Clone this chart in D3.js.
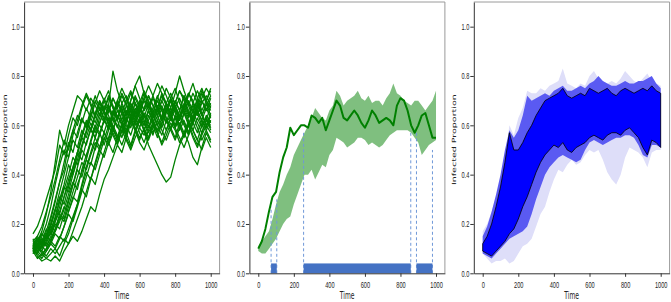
<!DOCTYPE html>
<html lang="en">
<head>
<meta charset="UTF-8" />
<script src="https://d3js.org/d3.v7.min.js"></script>
<title>Infected proportion over time</title>
<style>
  body { margin: 0; background: #fff; }
</style>
</head>
<body>
<script>
// sample times for the simulation runs and the bands
var runTime = [0,25,50,75,100,125,150,175,200,225,250,275,300,325,350,375,400,425,450,475,
  500,525,550,575,600,625,650,675,700,725,750,775,800,825,850,875,900,925,950,975,1000];
var meanTime = [0,20,40,60,80,100,120,140,160,180,200,220,240,260,280,300,320,340,360,380,
  400,420,440,460,480,500,520,540,560,580,600,620,640,660,680,700,720,740,760,780,
  800,820,840,860,880,900,920,940,960,980,1000];

var xTicks = [0,200,400,600,800,1000];
var yTicks = [0,0.2,0.4,0.6,0.8,1.0];

// left panel: individual runs
var runA = [0.10,0.13,0.17,0.24,0.33,0.45,0.58,0.52,0.60,0.66,0.72,0.70,0.66,0.71,0.68,0.64,0.70,0.74,0.67,0.63,0.69,0.72,0.66,0.61,0.67,0.73,0.70,0.64,0.68,0.62,0.66,0.71,0.75,0.69,0.65,0.60,0.66,0.70,0.64,0.69,0.66];
var runB = [0.12,0.11,0.15,0.20,0.27,0.36,0.44,0.50,0.47,0.56,0.62,0.68,0.73,0.69,0.64,0.70,0.66,0.61,0.58,0.64,0.60,0.55,0.61,0.66,0.63,0.58,0.62,0.67,0.72,0.66,0.61,0.64,0.59,0.63,0.68,0.73,0.70,0.65,0.60,0.63,0.58];
var runC = [0.09,0.08,0.12,0.15,0.22,0.29,0.37,0.42,0.52,0.58,0.55,0.62,0.60,0.66,0.72,0.67,0.62,0.68,0.82,0.74,0.69,0.65,0.70,0.76,0.71,0.66,0.69,0.63,0.67,0.72,0.68,0.64,0.69,0.74,0.70,0.65,0.61,0.66,0.71,0.75,0.72];
var runD = [0.14,0.10,0.09,0.13,0.18,0.22,0.30,0.36,0.44,0.40,0.48,0.55,0.61,0.58,0.64,0.60,0.57,0.63,0.59,0.54,0.60,0.65,0.70,0.76,0.80,0.73,0.68,0.63,0.67,0.62,0.58,0.63,0.68,0.64,0.60,0.56,0.61,0.66,0.62,0.59,0.64];
var runE = [0.10,0.12,0.10,0.14,0.16,0.21,0.25,0.31,0.38,0.43,0.49,0.46,0.53,0.58,0.55,0.61,0.66,0.62,0.58,0.64,0.61,0.57,0.63,0.59,0.55,0.58,0.52,0.48,0.44,0.40,0.37,0.39,0.46,0.52,0.56,0.61,0.58,0.54,0.60,0.63,0.59];
var runF = [0.11,0.09,0.07,0.10,0.13,0.17,0.21,0.26,0.32,0.37,0.34,0.42,0.48,0.53,0.50,0.56,0.62,0.59,0.65,0.70,0.66,0.61,0.67,0.63,0.69,0.74,0.70,0.65,0.60,0.64,0.69,0.73,0.68,0.63,0.67,0.72,0.77,0.71,0.66,0.70,0.74];
var runG = [0.10,0.07,0.05,0.06,0.08,0.10,0.07,0.12,0.16,0.22,0.28,0.34,0.31,0.38,0.44,0.50,0.47,0.53,0.58,0.55,0.61,0.57,0.52,0.58,0.63,0.60,0.66,0.62,0.57,0.61,0.66,0.70,0.65,0.60,0.55,0.60,0.64,0.59,0.54,0.58,0.62];
var runH = [0.09,0.06,0.08,0.06,0.05,0.07,0.05,0.09,0.12,0.15,0.13,0.17,0.22,0.27,0.25,0.32,0.38,0.42,0.47,0.52,0.49,0.55,0.51,0.57,0.62,0.58,0.54,0.59,0.64,0.68,0.63,0.59,0.55,0.61,0.57,0.53,0.47,0.44,0.51,0.57,0.53];
var runI = [0.13,0.15,0.12,0.16,0.19,0.17,0.22,0.27,0.25,0.30,0.36,0.41,0.46,0.44,0.51,0.57,0.62,0.68,0.64,0.70,0.75,0.71,0.66,0.72,0.68,0.63,0.69,0.65,0.71,0.76,0.72,0.67,0.73,0.80,0.74,0.69,0.65,0.71,0.75,0.70,0.67];
var runJ = [0.16,0.19,0.24,0.30,0.36,0.42,0.52,0.48,0.56,0.63,0.60,0.67,0.72,0.68,0.63,0.69,0.65,0.60,0.66,0.62,0.57,0.63,0.68,0.64,0.59,0.65,0.61,0.56,0.62,0.67,0.63,0.58,0.64,0.60,0.65,0.70,0.66,0.61,0.57,0.62,0.68];
var runK = [0.10,0.13,0.11,0.15,0.20,0.26,0.24,0.31,0.36,0.43,0.49,0.55,0.52,0.59,0.55,0.51,0.57,0.53,0.49,0.55,0.60,0.56,0.62,0.58,0.53,0.50,0.55,0.60,0.57,0.52,0.56,0.61,0.58,0.53,0.57,0.62,0.58,0.54,0.50,0.55,0.51];
var runL = [0.08,0.11,0.14,0.12,0.17,0.23,0.29,0.35,0.33,0.40,0.46,0.52,0.58,0.64,0.70,0.66,0.71,0.67,0.62,0.68,0.73,0.69,0.64,0.60,0.66,0.71,0.67,0.72,0.77,0.73,0.68,0.64,0.69,0.74,0.71,0.66,0.62,0.67,0.73,0.69,0.64];
var runM = [0.12,0.09,0.13,0.18,0.16,0.21,0.27,0.34,0.40,0.47,0.44,0.51,0.57,0.63,0.59,0.65,0.61,0.66,0.71,0.67,0.62,0.58,0.64,0.69,0.65,0.61,0.66,0.62,0.58,0.63,0.69,0.65,0.70,0.66,0.61,0.57,0.63,0.68,0.64,0.60,0.65];
var runN = [0.11,0.08,0.06,0.09,0.12,0.10,0.14,0.19,0.24,0.21,0.27,0.33,0.39,0.45,0.42,0.48,0.54,0.60,0.56,0.52,0.58,0.63,0.59,0.65,0.70,0.66,0.72,0.68,0.64,0.59,0.65,0.70,0.66,0.62,0.68,0.64,0.69,0.74,0.70,0.66,0.71];
var runO = [0.10,0.14,0.12,0.17,0.23,0.30,0.37,0.45,0.53,0.49,0.57,0.63,0.59,0.65,0.61,0.67,0.63,0.58,0.64,0.69,0.65,0.60,0.56,0.62,0.68,0.64,0.59,0.65,0.70,0.66,0.61,0.67,0.63,0.58,0.62,0.57,0.63,0.69,0.65,0.60,0.62];
var runP = [0.13,0.10,0.14,0.11,0.15,0.20,0.18,0.24,0.30,0.36,0.42,0.39,0.46,0.53,0.59,0.56,0.62,0.68,0.63,0.59,0.65,0.70,0.74,0.69,0.64,0.60,0.66,0.71,0.67,0.63,0.69,0.65,0.60,0.66,0.72,0.68,0.73,0.69,0.64,0.68,0.72];
var runQ = [0.09,0.11,0.08,0.10,0.13,0.11,0.15,0.13,0.18,0.23,0.28,0.35,0.41,0.38,0.45,0.51,0.57,0.54,0.60,0.56,0.52,0.57,0.62,0.58,0.54,0.59,0.55,0.61,0.57,0.53,0.58,0.63,0.59,0.55,0.51,0.56,0.61,0.57,0.62,0.58,0.54];
var runR = [0.11,0.15,0.19,0.25,0.31,0.38,0.46,0.54,0.50,0.58,0.64,0.61,0.67,0.63,0.69,0.74,0.70,0.65,0.71,0.67,0.72,0.68,0.63,0.69,0.65,0.71,0.76,0.72,0.67,0.73,0.69,0.65,0.70,0.66,0.72,0.68,0.63,0.69,0.74,0.70,0.75];
var runS = [0.10,0.08,0.11,0.15,0.13,0.18,0.24,0.22,0.29,0.36,0.43,0.50,0.47,0.54,0.60,0.57,0.52,0.58,0.63,0.60,0.55,0.61,0.66,0.62,0.57,0.53,0.58,0.64,0.60,0.56,0.62,0.58,0.54,0.59,0.65,0.61,0.56,0.52,0.57,0.62,0.60];
var runT = [0.12,0.14,0.11,0.09,0.12,0.16,0.14,0.19,0.25,0.31,0.29,0.36,0.43,0.49,0.55,0.61,0.66,0.71,0.67,0.62,0.68,0.64,0.69,0.65,0.61,0.67,0.72,0.68,0.64,0.70,0.75,0.71,0.66,0.62,0.67,0.63,0.68,0.64,0.70,0.66,0.69];
var runU = [0.09,0.12,0.16,0.14,0.20,0.26,0.33,0.40,0.47,0.54,0.51,0.58,0.55,0.61,0.57,0.63,0.68,0.64,0.59,0.55,0.60,0.66,0.62,0.67,0.63,0.58,0.64,0.60,0.55,0.61,0.66,0.62,0.67,0.71,0.66,0.62,0.58,0.63,0.59,0.64,0.61];
var runV = [0.10,0.12,0.09,0.07,0.10,0.08,0.11,0.14,0.12,0.17,0.22,0.27,0.33,0.39,0.36,0.43,0.49,0.55,0.61,0.66,0.62,0.68,0.73,0.69,0.65,0.70,0.66,0.61,0.66,0.70,0.66,0.71,0.67,0.63,0.68,0.73,0.69,0.64,0.69,0.72,0.68];
var runW = [0.11,0.13,0.16,0.14,0.19,0.25,0.31,0.28,0.35,0.42,0.49,0.56,0.62,0.58,0.65,0.70,0.66,0.72,0.68,0.63,0.67,0.62,0.66,0.71,0.67,0.62,0.57,0.61,0.66,0.62,0.67,0.63,0.59,0.64,0.69,0.65,0.61,0.66,0.62,0.67,0.63];
var runX = [0.08,0.10,0.13,0.11,0.14,0.18,0.23,0.21,0.27,0.33,0.39,0.45,0.42,0.48,0.53,0.50,0.55,0.52,0.57,0.53,0.58,0.54,0.50,0.55,0.59,0.56,0.60,0.57,0.62,0.58,0.54,0.59,0.63,0.60,0.56,0.60,0.55,0.51,0.56,0.60,0.57];
var runs = [runA,runB,runC,runD,runE,runF,runG,runH,runI,runJ,runK,runL,
            runM,runN,runO,runP,runQ,runR,runS,runT,runU,runV,runW,runX];

// middle panel: highlighted run and band
var meanLine = [0.10,0.13,0.18,0.25,0.31,0.33,0.41,0.47,0.51,0.59,0.56,0.58,0.60,0.60,0.59,0.64,0.63,0.61,0.63,0.58,
  0.62,0.66,0.70,0.68,0.63,0.62,0.64,0.66,0.64,0.61,0.59,0.62,0.66,0.64,0.61,0.62,0.63,0.62,0.60,0.68,
  0.71,0.70,0.66,0.60,0.57,0.60,0.64,0.65,0.60,0.55,0.55];
var bandLo = [0.09,0.08,0.08,0.10,0.12,0.14,0.17,0.20,0.22,0.23,0.28,0.32,0.36,0.40,0.40,0.42,0.38,0.41,0.44,0.43,
  0.48,0.50,0.55,0.54,0.53,0.51,0.52,0.53,0.55,0.55,0.54,0.52,0.53,0.52,0.51,0.52,0.54,0.56,0.57,0.58,
  0.58,0.58,0.58,0.57,0.55,0.53,0.48,0.50,0.52,0.53,0.54];
var bandHi = [0.11,0.13,0.15,0.17,0.22,0.28,0.33,0.36,0.40,0.43,0.48,0.51,0.54,0.57,0.60,0.63,0.67,0.65,0.63,0.62,
  0.66,0.68,0.74,0.72,0.68,0.70,0.71,0.72,0.74,0.71,0.70,0.72,0.69,0.70,0.70,0.68,0.71,0.73,0.77,0.73,
  0.72,0.70,0.69,0.68,0.70,0.70,0.68,0.66,0.68,0.70,0.74];
var spanStart = [72,255,890];
var spanEnd = [104,858,980];
var spanHeight = 0.04;
var guideTime = [72,104,255,858,890,980];
var guideTop = [0.27,0.30,0.57,0.58,0.57,0.50];

// right panel: nested envelopes
var lightLo = [0.08,0.06,0.04,0.05,0.05,0.06,0.04,0.05,0.08,0.11,0.12,0.14,0.19,0.24,0.27,0.33,0.38,0.42,0.41,0.44,0.46,0.44,0.45,0.48,0.50,0.49,0.50,0.46,0.41,0.38,0.36,0.40,0.47,0.51,0.50,0.49,0.47,0.43,0.49,0.50,0.50];
var lightHi = [0.17,0.20,0.25,0.31,0.37,0.46,0.60,0.56,0.63,0.67,0.74,0.73,0.73,0.75,0.74,0.76,0.77,0.78,0.83,0.77,0.76,0.75,0.77,0.76,0.80,0.82,0.79,0.78,0.77,0.78,0.77,0.79,0.82,0.80,0.78,0.77,0.79,0.81,0.78,0.77,0.76];
var midLo = [0.08,0.07,0.06,0.08,0.10,0.12,0.14,0.15,0.16,0.17,0.19,0.24,0.30,0.35,0.40,0.43,0.45,0.47,0.48,0.47,0.46,0.45,0.46,0.50,0.53,0.54,0.53,0.52,0.53,0.54,0.55,0.55,0.56,0.56,0.55,0.52,0.48,0.47,0.52,0.52,0.51];
var midHi = [0.15,0.19,0.25,0.32,0.40,0.50,0.58,0.55,0.58,0.64,0.72,0.70,0.71,0.72,0.73,0.72,0.74,0.75,0.76,0.74,0.74,0.75,0.76,0.75,0.77,0.78,0.80,0.78,0.77,0.76,0.76,0.77,0.78,0.77,0.77,0.78,0.78,0.79,0.80,0.77,0.75];
var darkLo = [0.09,0.08,0.07,0.09,0.11,0.13,0.16,0.18,0.22,0.27,0.31,0.36,0.41,0.45,0.48,0.50,0.52,0.51,0.53,0.50,0.49,0.51,0.52,0.53,0.55,0.56,0.55,0.54,0.56,0.57,0.57,0.56,0.58,0.59,0.57,0.55,0.51,0.48,0.54,0.53,0.51];
var darkHi = [0.12,0.15,0.20,0.27,0.35,0.45,0.57,0.50,0.50,0.53,0.57,0.60,0.64,0.67,0.70,0.71,0.72,0.73,0.75,0.72,0.71,0.72,0.73,0.72,0.75,0.74,0.73,0.74,0.75,0.73,0.72,0.74,0.75,0.74,0.73,0.74,0.75,0.74,0.76,0.74,0.73];

var width = 671, height = 302;
var svg = d3.select("body").append("svg")
    .attr("width", width)
    .attr("height", height)
    .style("font-family", "DejaVu Sans");

var yTop = 2, yBot = 273.3;
var panelLeft = [24.1, 249.4, 473.8];
var panelRight = [219.6, 444.9, 669.6];
var labelX = [5, 230, 454];

function makePanel(i) {
    var x = d3.scaleLinear().domain([-50, 1050]).range([panelLeft[i], panelRight[i]]);
    var y = d3.scaleLinear().domain([0, 1.1]).range([yBot, yTop]);
    var g = svg.append("g");
    return { x: x, y: y, g: g, i: i };
}

function drawFrame(p) {
    var g = p.g.append("g");
    var x0 = panelLeft[p.i], x1 = panelRight[p.i];
    // top / right spines are lighter
    g.append("line").attr("x1", x0).attr("x2", x1).attr("y1", yTop).attr("y2", yTop)
        .attr("stroke", "#9a9a9a").attr("stroke-width", 1);
    g.append("line").attr("x1", x1).attr("x2", x1).attr("y1", yTop).attr("y2", yBot)
        .attr("stroke", "#9a9a9a").attr("stroke-width", 1);

    var xa = g.append("g").attr("transform", "translate(0," + yBot + ")")
        .call(d3.axisBottom(p.x).tickValues(xTicks).tickSize(3.5).tickSizeOuter(0).tickFormat(d3.format("d")));
    xa.select(".domain").attr("stroke", "#333");
    xa.selectAll(".tick line").attr("stroke", "#333");
    xa.selectAll("text").attr("y", 8).attr("transform", "scale(0.64,1)")
        .style("font-size", "8.8px").attr("fill", "#222");

    var ya = g.append("g").attr("transform", "translate(" + x0 + ",0)")
        .call(d3.axisLeft(p.y).tickValues(yTicks).tickSize(3.5).tickSizeOuter(0).tickFormat(d3.format(".1f")));
    ya.select(".domain").attr("stroke", "#333");
    ya.selectAll(".tick line").attr("stroke", "#333");
    ya.selectAll("text").attr("x", -7).attr("transform", "scale(0.64,1)")
        .style("font-size", "8.8px").attr("fill", "#222");

    g.append("text")
        .attr("transform", "translate(" + ((x0 + x1) / 2) + ",299) scale(0.6,1)")
        .attr("text-anchor", "middle")
        .style("font-size", "10px").attr("fill", "#222")
        .text("Time");

    g.append("text")
        .attr("transform", "translate(" + labelX[p.i] + "," + ((yTop + yBot) / 2 + 2) + ") rotate(-90) scale(1,0.6)")
        .attr("text-anchor", "middle")
        .attr("dy", "0.35em")
        .style("font-size", "9.5px").attr("fill", "#222")
        .text("Infected Proportion");
}

// ---- left: all runs
var p1 = makePanel(0);
var runLine = d3.line().x(function (d, i) { return p1.x(runTime[i]); }).y(function (d) { return p1.y(d); });
p1.g.selectAll(".run").data(runs).enter().append("path")
    .attr("class", "run")
    .attr("d", runLine)
    .attr("fill", "none")
    .attr("stroke", "green")
    .attr("stroke-width", 1.3)
    .attr("stroke-linejoin", "round");
drawFrame(p1);

// ---- middle: one run against the band
var p2 = makePanel(1);
var band = d3.area()
    .x(function (d, i) { return p2.x(meanTime[i]); })
    .y0(function (d, i) { return p2.y(bandLo[i]); })
    .y1(function (d, i) { return p2.y(bandHi[i]); });
p2.g.append("path").datum(bandLo).attr("d", band)
    .attr("fill", "green").attr("fill-opacity", 0.5);

p2.g.selectAll(".guide").data(guideTime).enter().append("line")
    .attr("class", "guide")
    .attr("x1", function (d) { return p2.x(d); })
    .attr("x2", function (d) { return p2.x(d); })
    .attr("y1", p2.y(0))
    .attr("y2", function (d, i) { return p2.y(guideTop[i]); })
    .attr("stroke", "#6f98d8").attr("stroke-width", 1)
    .attr("stroke-dasharray", "3,2.5");

p2.g.selectAll(".span").data(spanStart).enter().append("rect")
    .attr("class", "span")
    .attr("x", function (d) { return p2.x(d); })
    .attr("width", function (d, i) { return p2.x(spanEnd[i]) - p2.x(d); })
    .attr("y", p2.y(spanHeight))
    .attr("height", p2.y(0) - p2.y(spanHeight))
    .attr("fill", "#4472c4");

var meanPath = d3.line().x(function (d, i) { return p2.x(meanTime[i]); }).y(function (d) { return p2.y(d); });
p2.g.append("path").datum(meanLine).attr("d", meanPath)
    .attr("fill", "none").attr("stroke", "green").attr("stroke-width", 2)
    .attr("stroke-linejoin", "round");
drawFrame(p2);

// ---- right: nested envelopes
var p3 = makePanel(2);
function envelope(lo, hi) {
    return d3.area()
        .x(function (d, i) { return p3.x(runTime[i]); })
        .y0(function (d, i) { return p3.y(lo[i]); })
        .y1(function (d, i) { return p3.y(hi[i]); })(lo);
}
p3.g.append("path").attr("d", envelope(lightLo, lightHi)).attr("fill", "#dedef9");
p3.g.append("path").attr("d", envelope(midLo, midHi)).attr("fill", "#5a5af2");
p3.g.append("path").attr("d", envelope(darkLo, darkHi)).attr("fill", "#0000ff")
    .attr("stroke", "#000").attr("stroke-width", 0.8).attr("stroke-linejoin", "round");
drawFrame(p3);
</script>
</body>
</html>
